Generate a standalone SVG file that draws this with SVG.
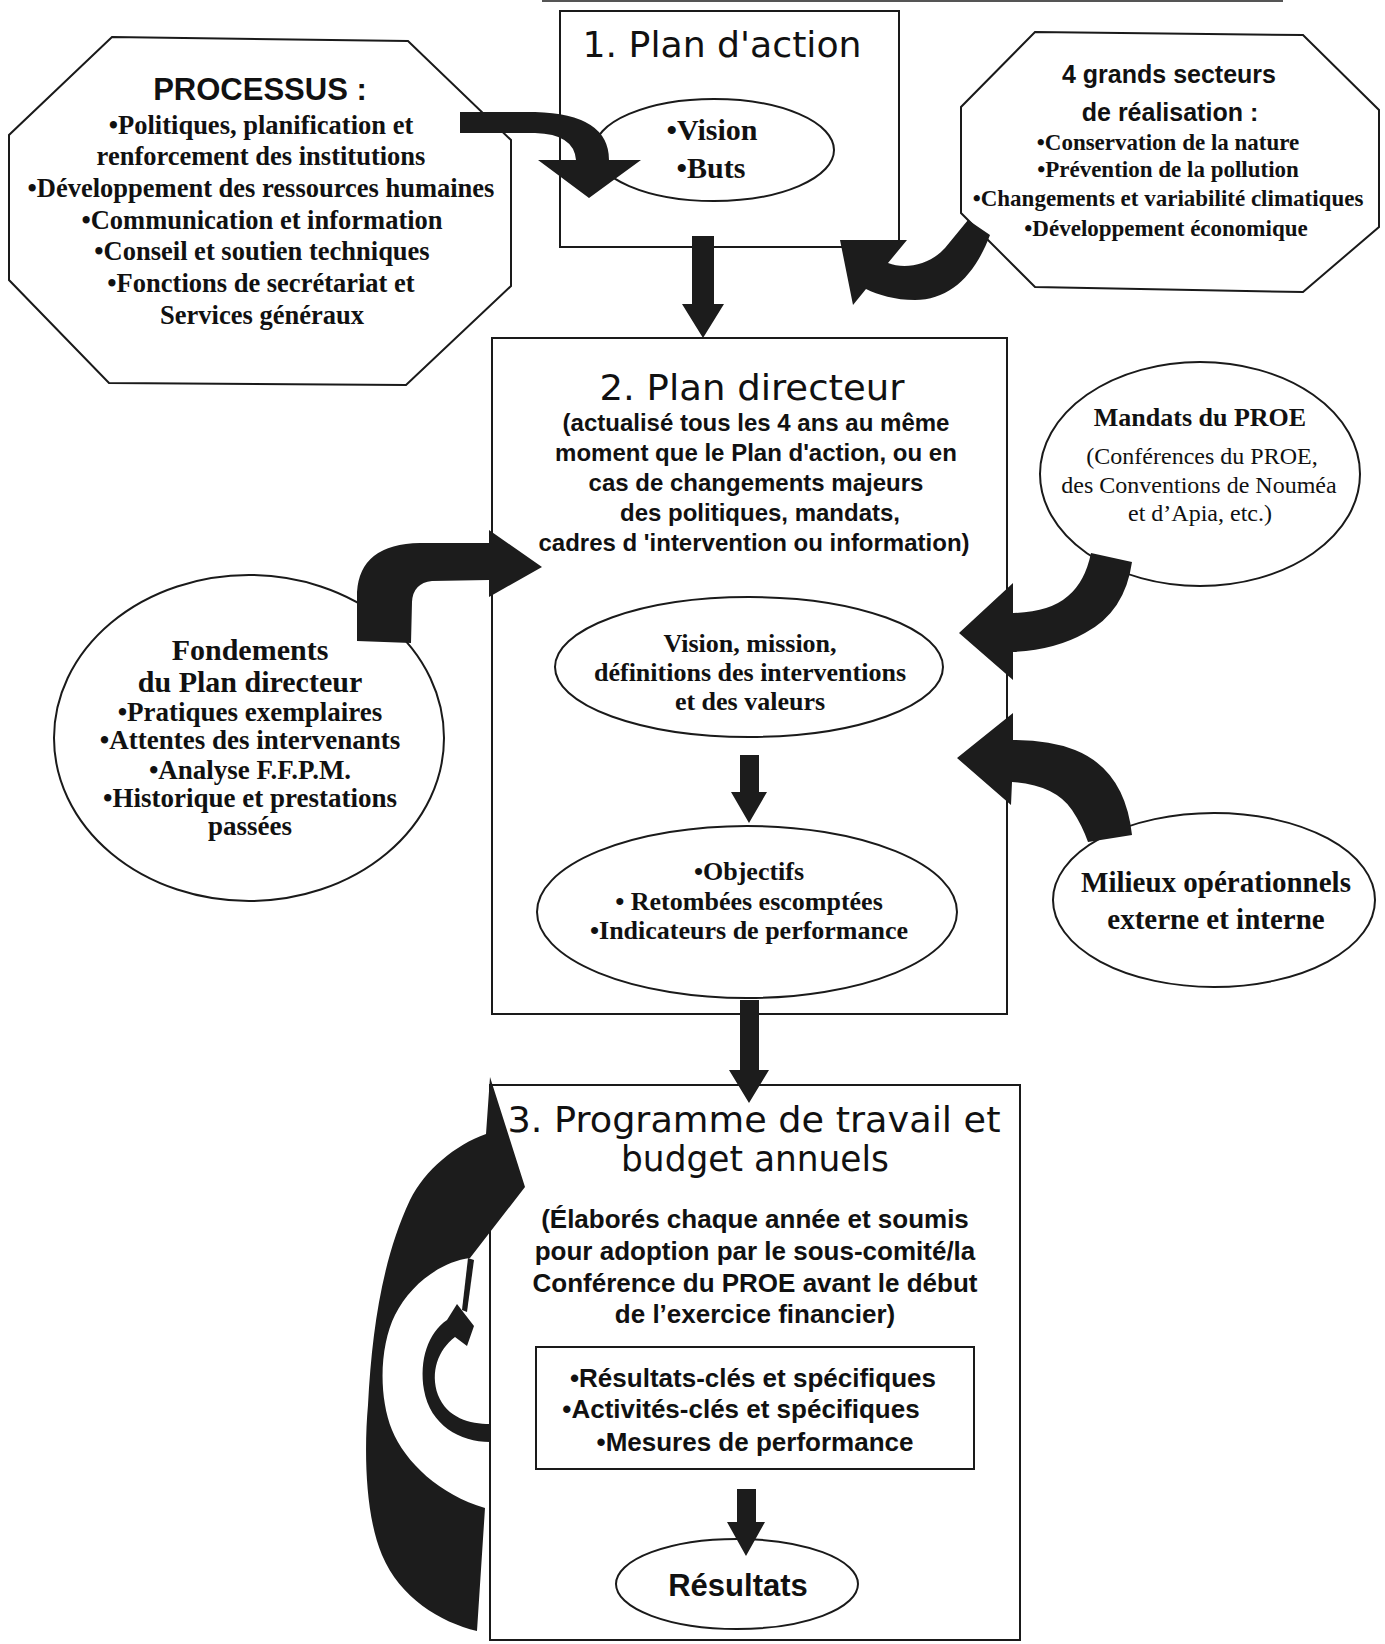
<svg xmlns="http://www.w3.org/2000/svg" width="1385" height="1644" viewBox="0 0 1385 1644">
  <style>
    .shape { fill: #fff; stroke: #1a1a1a; stroke-width: 2; }
    .arrow { fill: #1c1c1c; stroke: none; }
    .title { font-family: "DejaVu Sans", "Noto Sans", sans-serif; font-size: 36px; fill: #111; text-anchor: middle; }
    .serif { font-family: "Liberation Serif", "Times New Roman", serif; font-weight: bold; fill: #111; text-anchor: middle; white-space: pre; }
    .serif-r { font-family: "Liberation Serif", "Times New Roman", serif; fill: #111; text-anchor: middle; white-space: pre; }
    .sans { font-family: "Liberation Sans", Arial, sans-serif; font-weight: bold; fill: #111; text-anchor: middle; white-space: pre; }
  </style>

  <rect x="0" y="0" width="1385" height="1644" fill="#fff"/>
  <!-- fragment of the page frame along the top -->
  <line x1="542" y1="1" x2="1283" y2="1" stroke="#555" stroke-width="2"/>

  <!-- PROCESSUS octagon -->
  <g id="n-processus">
    <polygon class="shape" points="112,37 408,41 511,140 511,286 406,385 109,383 9,280 9,135"/>
    <text class="sans" x="260" y="100" font-size="31">PROCESSUS :</text>
    <g class="serif" font-size="26.5">
      <text x="261" y="134">•Politiques, planification et</text>
      <text x="261" y="165">renforcement des institutions</text>
      <text x="261" y="197">•Développement des ressources humaines</text>
      <text x="262" y="229">•Communication et information</text>
      <text x="262" y="260">•Conseil et soutien techniques</text>
      <text x="261" y="292">•Fonctions  de secrétariat et</text>
      <text x="262" y="324">Services généraux</text>
    </g>
  </g>

  <!-- 1. Plan d'action -->
  <g id="n-plan-action">
    <rect class="shape" x="560" y="11" width="339" height="236"/>
    <text class="title" x="722" y="57" textLength="279" lengthAdjust="spacingAndGlyphs">1. Plan d'action</text>
    <ellipse class="shape" cx="714" cy="150" rx="120" ry="51"/>
    <text class="serif" x="712" y="140" font-size="30">•Vision</text>
    <text class="serif" x="711" y="178" font-size="30">•Buts</text>
  </g>

  <!-- Sectors octagon -->
  <g id="n-secteurs">
    <polygon class="shape" points="1035,32 1303,35 1379,110 1379,227 1303,292 1035,287 961,213 961,107"/>
    <text class="sans" x="1169" y="83" font-size="25">4 grands secteurs</text>
    <text class="sans" x="1170" y="121" font-size="25">de réalisation :</text>
    <g class="serif" font-size="23">
      <text x="1168" y="150">•Conservation de la nature</text>
      <text x="1168" y="177">•Prévention de la pollution</text>
      <text x="1168" y="206">•Changements et variabilité climatiques</text>
      <text x="1166" y="236">•Développement économique</text>
    </g>
  </g>

  <!-- 2. Plan directeur -->
  <g id="n-plan-directeur">
    <rect class="shape" x="492" y="338" width="515" height="676"/>
    <text class="title" x="752" y="400" textLength="305" lengthAdjust="spacingAndGlyphs">2. Plan directeur</text>
    <g class="sans" font-size="24">
      <text x="756" y="431">(actualisé  tous les 4 ans au même</text>
      <text x="756" y="461">moment que le Plan d'action, ou en</text>
      <text x="756" y="491">cas de changements majeurs</text>
      <text x="760" y="521">des politiques, mandats,</text>
      <text x="754" y="551">cadres d 'intervention ou information)</text>
    </g>
  </g>

  <g id="n-vision-mission">
    <ellipse class="shape" cx="749" cy="667" rx="194" ry="70"/>
    <g class="serif" font-size="26">
      <text x="750" y="652">Vision, mission,</text>
      <text x="750" y="681">définitions des interventions</text>
      <text x="750" y="710">et des valeurs</text>
    </g>
  </g>

  <g id="n-objectifs">
    <ellipse class="shape" cx="747" cy="912" rx="210" ry="86"/>
    <g class="serif" font-size="26">
      <text x="749" y="880">•Objectifs</text>
      <text x="749" y="910">• Retombées escomptées</text>
      <text x="749" y="939">•Indicateurs de performance</text>
    </g>
  </g>

  <!-- Foundations circle -->
  <g id="n-fondements">
    <ellipse class="shape" cx="249" cy="738" rx="195" ry="163"/>
    <g class="serif">
      <text x="250" y="660" font-size="30">Fondements</text>
      <text x="250" y="692" font-size="30">du Plan directeur</text>
      <text x="250" y="721" font-size="27">•Pratiques exemplaires</text>
      <text x="250" y="749" font-size="27">•Attentes  des intervenants</text>
      <text x="250" y="779" font-size="27">•Analyse F.F.P.M.</text>
      <text x="250" y="807" font-size="27">•Historique et prestations</text>
      <text x="250" y="835" font-size="27">passées</text>
    </g>
  </g>

  <!-- Mandates circle -->
  <g id="n-mandats">
    <ellipse class="shape" cx="1200" cy="474" rx="160" ry="112"/>
    <text class="serif" x="1200" y="426" font-size="26">Mandats du PROE</text>
    <g class="serif-r" font-size="24">
      <text x="1202" y="464">(Conférences du PROE,</text>
      <text x="1199" y="493">des Conventions de Nouméa</text>
      <text x="1200" y="521">et d’Apia, etc.)</text>
    </g>
  </g>

  <!-- Operating environments -->
  <g id="n-milieux">
    <ellipse class="shape" cx="1214" cy="900" rx="161" ry="87"/>
    <text class="serif" x="1216" y="892" font-size="29">Milieux opérationnels</text>
    <text class="serif" x="1216" y="929" font-size="29">externe et interne</text>
  </g>

  <!-- 3. Annual work programme and budget -->
  <g id="n-programme">
    <rect class="shape" x="490" y="1085" width="530" height="555"/>
    <text class="title" x="754" y="1132" font-size="34" textLength="493" lengthAdjust="spacingAndGlyphs">3. Programme de travail et</text>
    <text class="title" x="755" y="1171" font-size="34" textLength="268" lengthAdjust="spacingAndGlyphs">budget annuels</text>
    <g class="sans" font-size="26">
      <text x="755" y="1228">(Élaborés chaque année et soumis</text>
      <text x="755" y="1260">pour adoption par le sous-comité/la</text>
      <text x="755" y="1292">Conférence du PROE avant le début</text>
      <text x="755" y="1323">de l’exercice financier)</text>
    </g>
  </g>

  <g id="n-resultats-cles">
    <rect class="shape" x="536" y="1347" width="438" height="122"/>
    <g class="sans" font-size="26">
      <text x="753" y="1387">•Résultats-clés et spécifiques</text>
      <text x="741" y="1418">•Activités-clés et spécifiques</text>
      <text x="755" y="1451">•Mesures  de performance</text>
    </g>
  </g>

  <g id="n-resultats">
    <ellipse class="shape" cx="737" cy="1584" rx="121" ry="45"/>
    <text class="sans" x="738" y="1596" font-size="31">Résultats</text>
  </g>

  <!-- Block arrows between the nodes -->
  <g id="connectors" class="arrow">
    <!-- processes into the action plan -->
    <path d="M460,112 L535,112 Q609,114 609,160 L641,160 L589,198 L538,160 L576,160 Q574,134 535,133 L460,133 Z"/>
    <!-- action plan down to the corporate plan -->
    <path d="M692,236 L714,236 L714,304 L724,304 L703,338 L682,304 L692,304 Z"/>
    <!-- sectors back into the action plan -->
    <path d="M968,220 L990,235 C975,275 950,300 915,300 C895,300 878,295 866,289 L853,305 L840,240 L907,240 L888,263 C905,270 930,265 945,248 Z"/>
    <!-- foundations into the corporate plan -->
    <path d="M357,641 L357,592 Q360,544 420,543 L489,543 L489,530 L542,567 L489,597 L489,580 L432,581 Q413,583 412,602 L411,643 Z"/>
    <!-- mandates into the corporate plan -->
    <path d="M1091,553 L1132,562 Q1125,612 1085,633 Q1055,650 1013,652 L1013,680 L959,633 L1013,583 L1013,613 Q1050,612 1068,596 Q1085,582 1091,553 Z"/>
    <!-- operating environments into the corporate plan -->
    <path d="M1088,842 L1132,835 Q1125,770 1075,750 Q1050,740 1013,740 L1013,713 L957,758 L1011,805 L1012,782 Q1055,785 1072,810 Q1082,825 1088,842 Z"/>
    <!-- vision ellipse to objectives ellipse -->
    <path d="M740,755 L759,755 L759,792 L767,792 L749,823 L731,792 L740,792 Z"/>
    <!-- corporate plan down to the work programme -->
    <path d="M740,1000 L759,1000 L759,1070 L769,1070 L749,1103 L729,1070 L740,1070 Z"/>
    <!-- outputs down to results -->
    <path d="M737,1489 L756,1489 L756,1522 L765,1522 L746,1556 L727,1522 L737,1522 Z"/>
    <!-- large feedback loop along the left of the work programme -->
    <path d="M490,1077 L525,1187 L470,1258 C440,1262 410,1285 395,1315 C380,1345 378,1395 392,1430 C405,1462 440,1495 485,1508 L477,1631 C440,1622 400,1598 382,1555 C365,1515 364,1450 368,1405 C372,1330 382,1260 410,1200 C425,1170 455,1145 486,1134 Z"/>
    <!-- small inner loop -->
    <path d="M490,1424 C470,1424 447,1418 438,1395 C430,1372 438,1350 455,1337 L467,1346 L474,1326 L457,1304 L447,1320 C428,1333 419,1360 424,1390 C430,1425 460,1442 490,1442 Z"/>
    <polygon points="468,1258 474,1260 467,1312 462,1310"/>
  </g>
</svg>
